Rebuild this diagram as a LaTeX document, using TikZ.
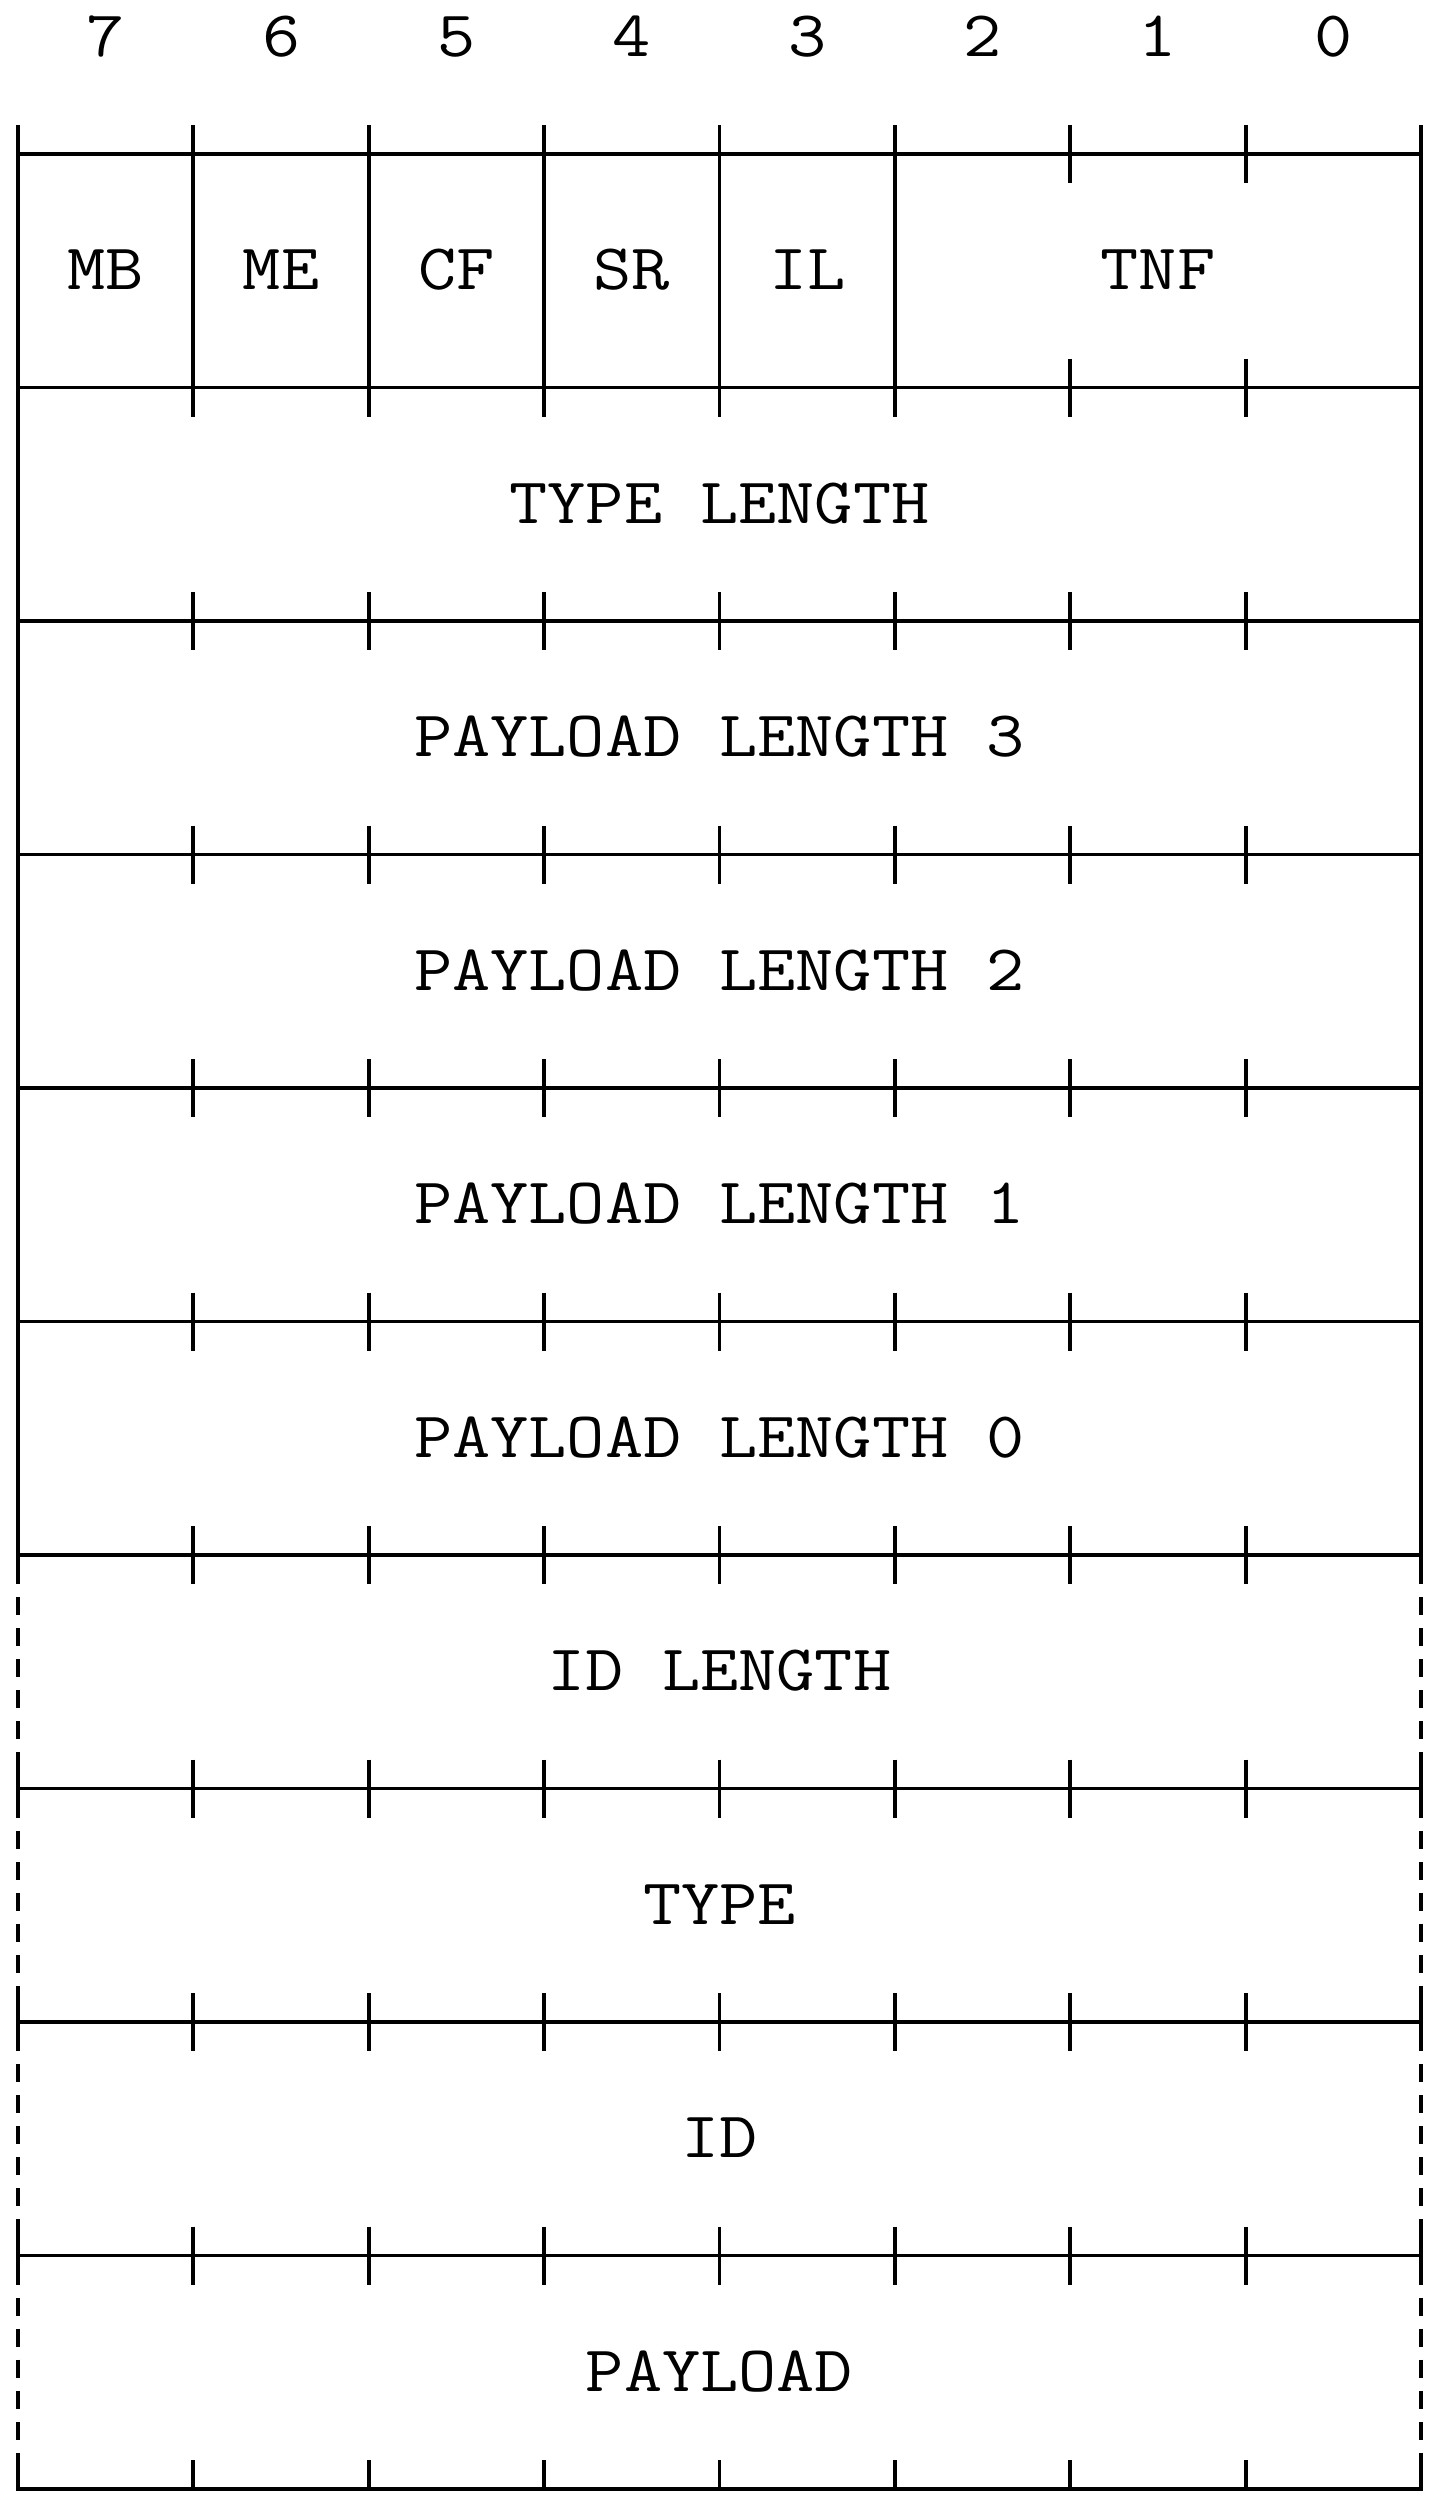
\documentclass[tikz,border=0pt]{standalone}
\usepackage{fontspec}
\newfontfamily\courfont{Latin Modern Mono}[FakeStretch=1.14]
\begin{document}
\begin{tikzpicture}[x=1bp,y=-1bp,line width=3.8bp,
  lbl/.style={inner sep=0pt,anchor=base,font=\courfont\fontsize{65bp}{78bp}\selectfont},
  sidedash/.style={dash pattern=on 18bp off 13bp,dash phase=18bp}]
\useasboundingbox (0,0) rectangle (1438,2504);
\def\XL{18}\def\XR{1421}\def\CW{175.375}\def\YT{154}\def\RH{233.5}\def\TK{29}
% horizontal lines
\foreach \k in {0,...,9}
  \draw ({\XL},{\YT+\RH*\k}) -- ({\XR},{\YT+\RH*\k});
% sides, solid part
\draw ({\XL},{\YT-\TK}) -- ({\XL},{\YT+\RH*6+\TK});
\draw ({\XR},{\YT-\TK}) -- ({\XR},{\YT+\RH*6+\TK});
% sides, dashed part
\foreach \k in {6,...,9}{
  \draw[sidedash] ({\XL},{\YT+\RH*\k+\TK}) -- ({\XL},{\YT+\RH*(\k+1)-\TK});
  \draw[sidedash] ({\XR},{\YT+\RH*\k+\TK}) -- ({\XR},{\YT+\RH*(\k+1)-\TK});
}
\foreach \k in {7,8,9}{
  \draw ({\XL},{\YT+\RH*\k-\TK}) -- ({\XL},{\YT+\RH*\k+\TK});
  \draw ({\XR},{\YT+\RH*\k-\TK}) -- ({\XR},{\YT+\RH*\k+\TK});
}
% bottom line with corner ticks
\draw ({\XL},{\YT+\RH*10-\TK}) -- ({\XL},{\YT+\RH*10}) -- ({\XR},{\YT+\RH*10}) -- ({\XR},{\YT+\RH*10-\TK});
% header separators
\foreach \i in {1,...,5}
  \draw ({\XL+\CW*\i},{\YT-\TK}) -- ({\XL+\CW*\i},{\YT+\RH+\TK});
\foreach \i in {6,7}{
  \draw ({\XL+\CW*\i},{\YT-\TK}) -- ({\XL+\CW*\i},{\YT+\TK});
  \draw ({\XL+\CW*\i},{\YT+\RH-\TK}) -- ({\XL+\CW*\i},{\YT+\RH+\TK});
}
% ticks on inner lines
\foreach \k in {2,...,9}
  \foreach \i in {1,...,7}
    \draw ({\XL+\CW*\i},{\YT+\RH*\k-\TK}) -- ({\XL+\CW*\i},{\YT+\RH*\k+\TK});
\foreach \i in {1,...,7}
  \draw ({\XL+\CW*\i},{\YT+\RH*10-\TK}) -- ({\XL+\CW*\i},{\YT+\RH*10});
% bit numbers
\foreach \b [count=\c from 0] in {7,6,5,4,3,2,1,0}
  \node[lbl] (bit\b) at ({\XL+\CW*(\c+0.5)},57) {\b};
% header fields
\foreach \t [count=\c from 0] in {MB,ME,CF,SR,IL}
  \node[lbl] (f\t) at ({\XL+\CW*(\c+0.5)},{\YT+\RH*0.5+19}) {\t};
\node[lbl] (fTNF) at ({\XL+\CW*6.5},{\YT+\RH*0.5+19}) {TNF};
% full-width fields
\node[lbl] (typelen) at ({(\XL+\XR)/2},{\YT+\RH*1.5+19}) {TYPE LENGTH};
\node[lbl] (pl3) at ({(\XL+\XR)/2},{\YT+\RH*2.5+19}) {PAYLOAD LENGTH 3};
\node[lbl] (pl2) at ({(\XL+\XR)/2},{\YT+\RH*3.5+19}) {PAYLOAD LENGTH 2};
\node[lbl] (pl1) at ({(\XL+\XR)/2},{\YT+\RH*4.5+19}) {PAYLOAD LENGTH 1};
\node[lbl] (pl0) at ({(\XL+\XR)/2},{\YT+\RH*5.5+19}) {PAYLOAD LENGTH 0};
\node[lbl] (idlen) at ({(\XL+\XR)/2},{\YT+\RH*6.5+19}) {ID LENGTH};
\node[lbl] (type) at ({(\XL+\XR)/2},{\YT+\RH*7.5+19}) {TYPE};
\node[lbl] (id) at ({(\XL+\XR)/2},{\YT+\RH*8.5+19}) {ID};
\node[lbl] (payload) at ({(\XL+\XR)/2},{\YT+\RH*9.5+19}) {PAYLOAD};
\end{tikzpicture}
\end{document}
